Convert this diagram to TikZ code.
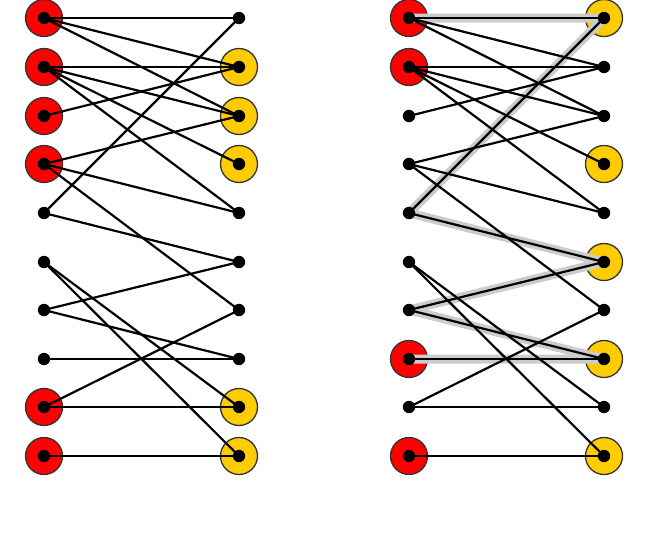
\documentclass[tikz,border=0pt]{standalone}
\usepackage{xcolor}
\usepackage{tikz}

\definecolor{vred}{RGB}{255,0,0}
\definecolor{vyellow}{RGB}{255,204,0}

\begin{document}
\begin{tikzpicture}[
            x=1pt, y=-1pt,
            vert/.style={circle, inner sep=0pt, minimum size=37pt},
            redv/.style={vert, fill=vred, draw=black!80, line width=1.3pt},
            yelv/.style={vert, fill=vyellow, draw=black!80, line width=1.3pt},
            plainv/.style={vert, minimum size=12pt},
            edge/.style={line width=2.2pt},
            augpath/.style={line width=9pt, black!20, line join=round}
        ]

        \useasboundingbox (0,0) rectangle (664,542);

        %================================================
        % Left graph: vertices
        %================================================
        \node[redv] (a1) at (44,18) {};
        \node[redv] (a2) at (44,67) {};
        \node[redv] (a3) at (44,116) {};
        \node[redv] (a4) at (44,164) {};
        \node[plainv] (a5) at (44,213) {};
        \node[plainv] (a6) at (44,262) {};
        \node[plainv] (a7) at (44,310) {};
        \node[plainv] (a8) at (44,359) {};
        \node[redv] (a9) at (44,407) {};
        \node[redv] (a10) at (44,456) {};

        \node[plainv] (b1) at (239,18) {};
        \node[yelv] (b2) at (239,67) {};
        \node[yelv] (b3) at (239,116) {};
        \node[yelv] (b4) at (239,164) {};
        \node[plainv] (b5) at (239,213) {};
        \node[plainv] (b6) at (239,262) {};
        \node[plainv] (b7) at (239,310) {};
        \node[plainv] (b8) at (239,359) {};
        \node[yelv] (b9) at (239,407) {};
        \node[yelv] (b10) at (239,456) {};

        %================================================
        % Right graph: vertices
        %================================================
        \node[redv] (c1) at (409,18) {};
        \node[redv] (c2) at (409,67) {};
        \node[plainv] (c3) at (409,116) {};
        \node[plainv] (c4) at (409,164) {};
        \node[plainv] (c5) at (409,213) {};
        \node[plainv] (c6) at (409,262) {};
        \node[plainv] (c7) at (409,310) {};
        \node[redv] (c8) at (409,359) {};
        \node[plainv] (c9) at (409,407) {};
        \node[redv] (c10) at (409,456) {};

        \node[yelv] (d1) at (604,18) {};
        \node[plainv] (d2) at (604,67) {};
        \node[plainv] (d3) at (604,116) {};
        \node[yelv] (d4) at (604,164) {};
        \node[plainv] (d5) at (604,213) {};
        \node[yelv] (d6) at (604,262) {};
        \node[plainv] (d7) at (604,310) {};
        \node[yelv] (d8) at (604,359) {};
        \node[plainv] (d9) at (604,407) {};
        \node[yelv] (d10) at (604,456) {};

        %================================================
        % Augmenting path (grey band under the edges)
        %================================================
        \draw[augpath] (c1.center) -- (d1.center) -- (c5.center) -- (d6.center)
            -- (c7.center) -- (d8.center) -- (c8.center);

        %================================================
        % Edges: same graph on both sides
        %================================================
        \foreach \u/\v in {a/b, c/d} {
            \draw[edge] (\u1.center) -- (\v1.center);
            \draw[edge] (\u1.center) -- (\v2.center);
            \draw[edge] (\u1.center) -- (\v3.center);
            \draw[edge] (\u2.center) -- (\v2.center);
            \draw[edge] (\u2.center) -- (\v3.center);
            \draw[edge] (\u2.center) -- (\v4.center);
            \draw[edge] (\u2.center) -- (\v5.center);
            \draw[edge] (\u3.center) -- (\v2.center);
            \draw[edge] (\u4.center) -- (\v3.center);
            \draw[edge] (\u4.center) -- (\v5.center);
            \draw[edge] (\u4.center) -- (\v7.center);
            \draw[edge] (\u5.center) -- (\v1.center);
            \draw[edge] (\u5.center) -- (\v6.center);
            \draw[edge] (\u6.center) -- (\v9.center);
            \draw[edge] (\u6.center) -- (\v10.center);
            \draw[edge] (\u7.center) -- (\v6.center);
            \draw[edge] (\u7.center) -- (\v8.center);
            \draw[edge] (\u8.center) -- (\v8.center);
            \draw[edge] (\u9.center) -- (\v7.center);
            \draw[edge] (\u9.center) -- (\v9.center);
            \draw[edge] (\u10.center) -- (\v10.center);
        }

        %================================================
        % Black dots on top of every vertex
        %================================================
        \foreach \i in {1,...,10} {
            \fill (a\i) circle [radius=6.2pt];
            \fill (b\i) circle [radius=6.2pt];
            \fill (c\i) circle [radius=6.2pt];
            \fill (d\i) circle [radius=6.2pt];
        }

        \end{tikzpicture}
\end{document}
